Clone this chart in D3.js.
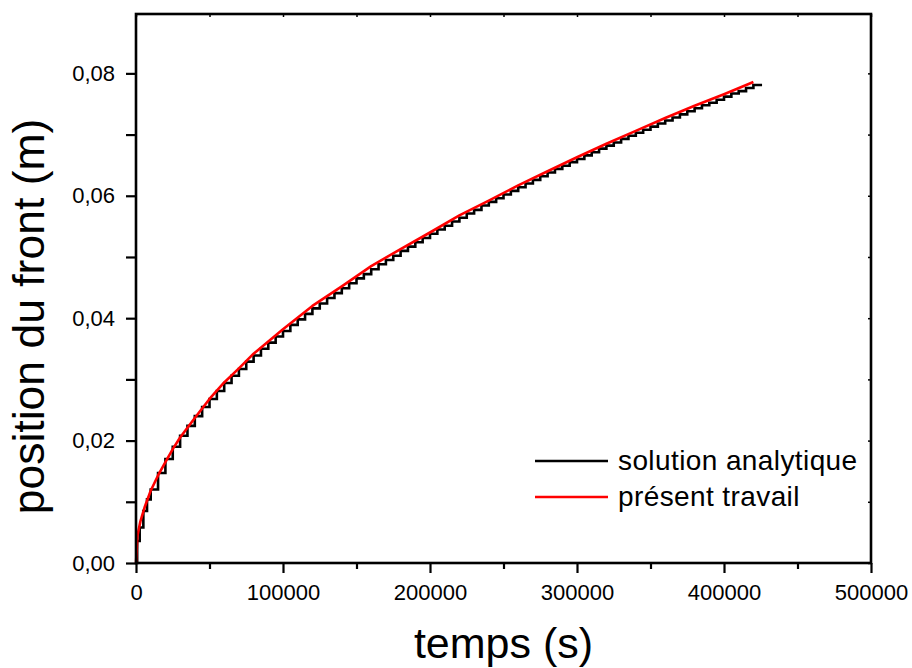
<!DOCTYPE html>
<html>
<head>
<meta charset="utf-8">
<script src="https://cdn.jsdelivr.net/npm/d3@7"></script>
<style>
  html, body { margin: 0; padding: 0; background: #fff; }
  svg { display: block; }
</style>
</head>
<body>
<svg id="chart" width="912" height="668"></svg>
<script>
// Front position over time: analytic solution vs. present work
const analyticTime = [0, 800, 2500, 5000, 7500,
  10000, 15000, 20000, 25000, 30000, 35000, 40000, 45000, 50000, 55000,
  60000, 65000, 70000, 75000, 80000, 85000, 90000, 95000, 100000, 105000,
  110000, 115000, 120000, 125000, 130000, 135000, 140000, 145000, 150000, 155000,
  160000, 165000, 170000, 175000, 180000, 185000, 190000, 195000, 200000, 205000,
  210000, 215000, 220000, 225000, 230000, 235000, 240000, 245000, 250000, 255000,
  260000, 265000, 270000, 275000, 280000, 285000, 290000, 295000, 300000, 305000,
  310000, 315000, 320000, 325000, 330000, 335000, 340000, 345000, 350000, 355000,
  360000, 365000, 370000, 375000, 380000, 385000, 390000, 395000, 400000, 405000,
  410000, 415000, 420000, 425000];
const analyticPos = [0.0000, 0.0036, 0.0058, 0.0085, 0.0104,
  0.0120, 0.0147, 0.0170, 0.0190, 0.0208, 0.0224, 0.0240, 0.0255, 0.0268, 0.0281,
  0.0294, 0.0306, 0.0317, 0.0329, 0.0339, 0.0350, 0.0360, 0.0370, 0.0379, 0.0389,
  0.0398, 0.0407, 0.0416, 0.0424, 0.0433, 0.0441, 0.0449, 0.0457, 0.0465, 0.0472,
  0.0480, 0.0488, 0.0495, 0.0502, 0.0510, 0.0517, 0.0524, 0.0531, 0.0538, 0.0545,
  0.0551, 0.0558, 0.0564, 0.0571, 0.0577, 0.0584, 0.0590, 0.0596, 0.0602, 0.0608,
  0.0614, 0.0620, 0.0626, 0.0632, 0.0638, 0.0644, 0.0649, 0.0655, 0.0660, 0.0666,
  0.0671, 0.0677, 0.0682, 0.0687, 0.0693, 0.0698, 0.0703, 0.0708, 0.0713, 0.0718,
  0.0723, 0.0728, 0.0733, 0.0738, 0.0743, 0.0748, 0.0752, 0.0757, 0.0762, 0.0767,
  0.0771, 0.0776, 0.0781, 0.0783];

const workTime = [0, 1000, 3000, 6000, 10000, 15000, 20000, 25000, 30000, 40000, 50000, 60000, 70000,
  80000, 90000, 100000, 120000, 140000, 160000, 180000, 200000, 220000, 240000, 260000, 280000,
  300000, 320000, 340000, 360000, 380000, 400000, 420000];
const workPos = [0.0000, 0.0045, 0.0068, 0.0092, 0.0118, 0.0143, 0.0165, 0.0186, 0.0205, 0.0237,
  0.0268, 0.0295, 0.0318, 0.0342, 0.0362, 0.0382, 0.0420, 0.0452, 0.0485, 0.0513, 0.0540, 0.0568,
  0.0592, 0.0617, 0.0640, 0.0663, 0.0685, 0.0706, 0.0727, 0.0747, 0.0766, 0.0786];

const xTicks = [0, 100000, 200000, 300000, 400000, 500000];
const yTicks = [0, 0.02, 0.04, 0.06, 0.08];
const seriesNames = ["solution analytique", "présent travail"];
const seriesColors = ["#000000", "#ff0000"];

const FONT = "'Liberation Sans', Arial, sans-serif";
const svg = d3.select("#chart").attr("font-family", FONT);
const plotLeft = 136, plotRight = 871, plotTop = 14, plotBottom = 563;

const x = d3.scaleLinear().domain([0, 500000]).range([plotLeft, plotRight]);
const y = d3.scaleLinear().domain([0, 0.0897]).range([plotBottom, plotTop]);

const xMinor = d3.range(50000, 500000, 100000);
const yMinor = [0.01, 0.03, 0.05, 0.07];
const fmtY = d => d3.format(".2f")(d).replace(".", ",");

// Curves
const analytic = analyticTime.map((t, i) => [t, analyticPos[i]]);
const work = workTime.map((t, i) => [t, workPos[i]]);

svg.append("path")
  .datum(analytic)
  .attr("fill", "none")
  .attr("stroke", seriesColors[0])
  .attr("stroke-width", 2.6)
  .attr("d", d3.line().x(d => x(d[0])).y(d => y(d[1])).curve(d3.curveStepAfter));

svg.append("path")
  .datum(work)
  .attr("fill", "none")
  .attr("stroke", seriesColors[1])
  .attr("stroke-width", 2.6)
  .attr("stroke-linejoin", "round")
  .attr("d", d3.line().x(d => x(d[0])).y(d => y(d[1])));

// Bottom axis: outward ticks with labels
const gx = svg.append("g").attr("transform", `translate(0,${plotBottom})`)
  .call(d3.axisBottom(x).tickValues(xTicks).tickSize(10).tickPadding(11).tickFormat(d3.format("d")));
gx.attr("font-family", FONT);
gx.selectAll("text").attr("font-size", 22).attr("fill", "#000");
gx.selectAll("line").attr("stroke-width", 2.2);
gx.select(".domain").remove();
svg.append("g").attr("transform", `translate(0,${plotBottom})`)
  .call(d3.axisBottom(x).tickValues(xMinor).tickSize(6).tickFormat(""))
  .call(g => g.select(".domain").remove())
  .selectAll("line").attr("stroke-width", 2.2);

// Left axis: outward ticks with labels
const gy = svg.append("g").attr("transform", `translate(${plotLeft},0)`)
  .call(d3.axisLeft(y).tickValues(yTicks).tickSize(10).tickPadding(11).tickFormat(fmtY));
gy.attr("font-family", FONT);
gy.selectAll("text").attr("font-size", 22).attr("fill", "#000");
gy.selectAll("line").attr("stroke-width", 2.2);
gy.select(".domain").remove();
svg.append("g").attr("transform", `translate(${plotLeft},0)`)
  .call(d3.axisLeft(y).tickValues(yMinor).tickSize(10).tickFormat(""))
  .call(g => g.select(".domain").remove())
  .selectAll("line").attr("stroke-width", 2.2);

// Top and right axes: small inward ticks, no labels
svg.append("g").attr("transform", `translate(0,${plotTop})`)
  .call(d3.axisBottom(x).tickValues(xTicks.concat(xMinor)).tickSize(3).tickFormat(""))
  .call(g => g.select(".domain").remove())
  .selectAll("line").attr("stroke-width", 1.5);
svg.append("g").attr("transform", `translate(${plotRight},0)`)
  .call(d3.axisLeft(y).tickValues(yTicks.concat(yMinor)).tickSize(3).tickFormat(""))
  .call(g => g.select(".domain").remove())
  .selectAll("line").attr("stroke-width", 1.5);

// Frame
svg.append("rect")
  .attr("x", plotLeft).attr("y", plotTop)
  .attr("width", plotRight - plotLeft).attr("height", plotBottom - plotTop)
  .attr("fill", "none").attr("stroke", "#000").attr("stroke-width", 2.6);

// Axis titles
svg.append("text")
  .attr("x", (plotLeft + plotRight) / 2).attr("y", 658)
  .attr("text-anchor", "middle")
  .attr("font-size", 43)
  .text("temps (s)");

svg.append("text")
  .attr("transform", `translate(44,${(plotTop + plotBottom) / 2 + 28}) rotate(-90)`)
  .attr("text-anchor", "middle")
  .attr("font-size", 44.5)
  .text("position du front (m)");

// Legend
const legend = svg.append("g");
seriesNames.forEach((name, i) => {
  const ly = 461 + i * 36;
  legend.append("line")
    .attr("x1", 535).attr("x2", 608).attr("y1", ly).attr("y2", ly)
    .attr("stroke", seriesColors[i]).attr("stroke-width", 2.6);
  legend.append("text")
    .attr("x", 618).attr("y", ly + 9)
    .attr("font-size", 28)
    .attr("letter-spacing", 0.4)
    .text(name);
});
</script>
</body>
</html>
